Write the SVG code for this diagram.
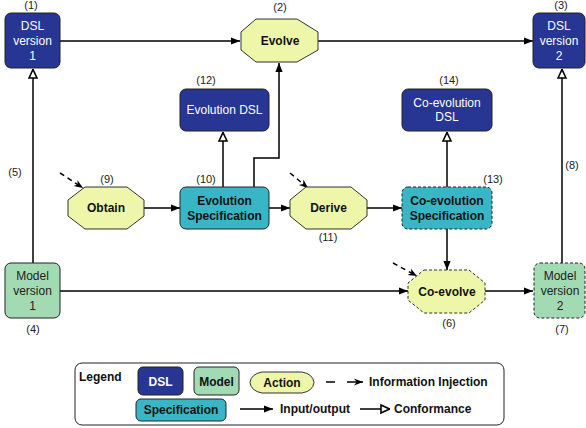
<svg xmlns="http://www.w3.org/2000/svg" width="586" height="428" viewBox="0 0 586 428">
<defs>
<marker id="fill" viewBox="0 0 10 10" refX="10" refY="5" markerWidth="9" markerHeight="9" markerUnits="userSpaceOnUse" orient="auto"><path d="M0,1 L10,5 L0,9 Z" fill="#000"/></marker>
<marker id="hollow" viewBox="0 0 10 10" refX="10" refY="5" markerWidth="10" markerHeight="10" markerUnits="userSpaceOnUse" orient="auto"><path d="M1,1 L9.5,5 L1,9 Z" fill="#fff" stroke="#000" stroke-width="1.6"/></marker>
<marker id="stick" viewBox="0 0 10 10" refX="10" refY="5" markerWidth="9" markerHeight="9" markerUnits="userSpaceOnUse" orient="auto"><path d="M0,1 L10,5 L0,9 L3,5 Z" fill="#000"/></marker>
</defs>
<style>
text{font-family:"Liberation Sans",Arial,sans-serif;}
.lbl{font-size:11px;fill:#222;text-anchor:middle;}
.dsl{fill:#273593;stroke:#222;stroke-width:1;}
.model{fill:#a2dab4;stroke:#222;stroke-width:1;}
.spec{fill:#38b6c6;stroke:#222;stroke-width:1;}
.act{fill:#eef6aa;stroke:#333;stroke-width:1;}
.dash{stroke-dasharray:3,2;}
.wt{font-size:12px;fill:#fff;text-anchor:middle;}
.dt{font-size:12px;fill:#222;text-anchor:middle;}
.bt{font-size:12px;font-weight:bold;fill:#111;text-anchor:middle;}
.c{stroke:#000;stroke-width:1.5;fill:none;}
.lg{font-size:12px;font-weight:bold;fill:#111;}
</style>

<g id="connectors">
<line class="c" x1="60" y1="41" x2="240" y2="41" marker-end="url(#fill)"/>
<line class="c" x1="318" y1="41" x2="533" y2="41" marker-end="url(#fill)"/>
<line class="c" x1="33" y1="263" x2="33" y2="69" marker-end="url(#hollow)"/>
<line class="c" x1="562" y1="263" x2="562" y2="69" marker-end="url(#hollow)"/>
<line class="c" x1="60" y1="291" x2="408" y2="291" marker-end="url(#fill)"/>
<line class="c" x1="485" y1="291" x2="533" y2="291" marker-end="url(#fill)"/>
<line class="c" x1="144" y1="208" x2="180" y2="208" marker-end="url(#fill)"/>
<line class="c" x1="269" y1="208" x2="290" y2="208" marker-end="url(#fill)"/>
<line class="c" x1="367" y1="208" x2="402" y2="208" marker-end="url(#fill)"/>
<line class="c" x1="223" y1="187" x2="223" y2="132" marker-end="url(#hollow)"/>
<polyline class="c" points="254,187 254,158 279,158 279,63" marker-end="url(#fill)"/>
<line class="c" x1="447" y1="187" x2="447" y2="132" marker-end="url(#hollow)"/>
<line class="c" x1="447" y1="229" x2="447" y2="270" marker-end="url(#fill)"/>
<line class="c" x1="60" y1="173" x2="83" y2="188" stroke-dasharray="5,4" marker-end="url(#stick)"/>
<line class="c" x1="290" y1="173" x2="308" y2="188" stroke-dasharray="5,4" marker-end="url(#stick)"/>
<line class="c" x1="393" y1="263" x2="417" y2="276" stroke-dasharray="5,4" marker-end="url(#stick)"/>
</g>

<g id="n1">
<rect class="dsl" x="5" y="13" width="55" height="55" rx="6"/>
<text class="wt" x="32.5" y="30">DSL</text><text class="wt" x="32.5" y="45">version</text><text class="wt" x="32.5" y="60">1</text>
<text class="lbl" x="31" y="9">(1)</text>
</g>
<g id="n2">
<polygon class="act" points="256,19 297,19 318,32 318,50 297,62 256,62 241,50 241,32"/>
<text class="bt" x="280" y="45">Evolve</text>
<text class="lbl" x="280" y="11">(2)</text>
</g>
<g id="n3">
<rect class="dsl" x="533" y="13" width="52" height="55" rx="6"/>
<text class="wt" x="559" y="30">DSL</text><text class="wt" x="559" y="45">version</text><text class="wt" x="559" y="60">2</text>
<text class="lbl" x="561" y="9">(3)</text>
</g>
<g id="n4">
<rect class="model" x="5" y="263" width="55" height="55" rx="6"/>
<text class="dt" x="32.5" y="280">Model</text><text class="dt" x="32.5" y="295">version</text><text class="dt" x="32.5" y="310">1</text>
<text class="lbl" x="33" y="333">(4)</text>
</g>
<text class="lbl" x="15" y="176">(5)</text>
<g id="n6">
<polygon class="act dash" points="424,270 469,270 485,283 485,300 469,313 424,313 408,300 408,283"/>
<text class="bt" x="447" y="296">Co-evolve</text>
<text class="lbl" x="449" y="327">(6)</text>
</g>
<g id="n7">
<rect class="model dash" x="534" y="263" width="51" height="55" rx="6"/>
<text class="dt" x="560" y="280">Model</text><text class="dt" x="560" y="295">version</text><text class="dt" x="560" y="310">2</text>
<text class="lbl" x="562" y="333">(7)</text>
</g>
<text class="lbl" x="572" y="169">(8)</text>
<g id="n9">
<polygon class="act" points="85,187 127,187 144,200 144,216 127,229 85,229 68,216 68,200"/>
<text class="bt" x="106" y="212">Obtain</text>
<text class="lbl" x="107" y="183">(9)</text>
</g>
<g id="n10">
<rect class="spec" x="180" y="187" width="89" height="42" rx="6"/>
<text class="bt" x="224.5" y="205">Evolution</text><text class="bt" x="224.5" y="220">Specification</text>
<text class="lbl" x="206" y="183">(10)</text>
</g>
<g id="n11">
<polygon class="act" points="306,187 351,187 367,200 367,216 351,229 306,229 290,216 290,200"/>
<text class="bt" x="328.5" y="212">Derive</text>
<text class="lbl" x="328" y="241">(11)</text>
</g>
<g id="n12">
<rect class="dsl" x="180" y="89" width="89" height="42" rx="6"/>
<text class="wt" x="224.5" y="114">Evolution DSL</text>
<text class="lbl" x="206" y="84">(12)</text>
</g>
<g id="n13">
<rect class="spec dash" x="402" y="187" width="90" height="42" rx="6"/>
<text class="bt" x="447" y="205">Co-evolution</text><text class="bt" x="447" y="220">Specification</text>
<text class="lbl" x="493" y="183">(13)</text>
</g>
<g id="n14">
<rect class="dsl" x="402" y="89" width="90" height="42" rx="6"/>
<text class="wt" x="447" y="107">Co-evolution</text><text class="wt" x="447" y="121">DSL</text>
<text class="lbl" x="449" y="84">(14)</text>
</g>

<g id="legend">
<rect x="75" y="363" width="429" height="62" rx="7" fill="#fff" stroke="#222" stroke-width="1"/>
<text class="lg" x="79" y="381">Legend</text>
<rect class="dsl" x="138" y="367" width="45" height="28" rx="5"/>
<text class="bt" x="160.5" y="386" style="fill:#fff">DSL</text>
<rect class="model" x="194" y="367" width="45" height="28" rx="5"/>
<text class="bt" x="216.5" y="386">Model</text>
<path class="act" d="M262,372 L302,372 Q313,374 314,382.5 Q313,391 302,393 L262,393 Q251,391 250,382.5 Q251,374 262,372 Z"/>
<text class="bt" x="282" y="387">Action</text>
<rect class="spec" x="136" y="399" width="90" height="22" rx="5"/>
<text class="bt" x="181" y="414">Specification</text>
<line class="c" x1="240" y1="409" x2="273" y2="409" marker-end="url(#fill)"/>
<text class="lg" x="280" y="413">Input/output</text>
<line class="c" x1="326" y1="382" x2="335" y2="382"/>
<line class="c" x1="347" y1="382" x2="363" y2="382" marker-end="url(#stick)"/>
<text class="lg" x="369" y="386">Information Injection</text>
<line class="c" x1="360" y1="409" x2="390" y2="409" marker-end="url(#hollow)"/>
<text class="lg" x="394" y="413">Conformance</text>
</g>
</svg>
